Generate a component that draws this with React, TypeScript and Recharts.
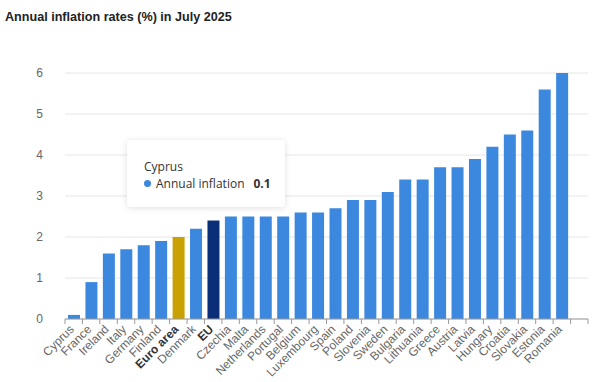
import { useEffect } from 'react'
import { BarChart, Bar, XAxis, YAxis, CartesianGrid, Tooltip, Cell } from 'recharts'

const countries = [
  'Cyprus', 'France', 'Ireland', 'Italy', 'Germany', 'Finland', 'Euro area', 'Denmark', 'EU',
  'Czechia', 'Malta', 'Netherlands', 'Portugal', 'Belgium', 'Luxembourg', 'Spain', 'Poland',
  'Slovenia', 'Sweden', 'Bulgaria', 'Lithuania', 'Greece', 'Austria', 'Latvia', 'Hungary',
  'Croatia', 'Slovakia', 'Estonia', 'Romania', '',
]
const inflation = [
  0.1, 0.9, 1.6, 1.7, 1.8, 1.9, 2.0, 2.2, 2.4,
  2.5, 2.5, 2.5, 2.5, 2.6, 2.6, 2.7, 2.9,
  2.9, 3.1, 3.4, 3.4, 3.7, 3.7, 3.9, 4.2,
  4.5, 4.6, 5.6, 6.0, null,
]
const yTicks = [0, 1, 2, 3, 4, 5, 6]
const aggregates = ['Euro area', 'EU']

const BLUE = '#3d88df'
const GOLD = '#c9a104'
const NAVY = '#0b2e78'

const data = countries.map((c, i) => ({ country: c, value: inflation[i] }))

const barColor = (c: string) => (c === 'Euro area' ? GOLD : c === 'EU' ? NAVY : BLUE)

// highcharts-style: tick marks sit between categories, labels rotated -45
const CountryTick = (props: any) => {
  const { x, y, payload, index, visibleTicksCount } = props
  const slot = 523 / countries.length
  const bold = aggregates.includes(payload.value)
  const last = index === visibleTicksCount - 1
  const lx = x + 1
  const ly = y + 11
  return (
    <g>
      <line x1={x - slot / 2} x2={x - slot / 2} y1={y} y2={y + 5} stroke="#999" />
      {last && <line x1={x + slot / 2} x2={x + slot / 2} y1={y} y2={y + 5} stroke="#999" />}
      <text
        x={lx}
        y={ly}
        transform={`rotate(-45, ${lx}, ${ly})`}
        textAnchor="end"
        fontSize={12}
        fontWeight={bold ? 700 : 400}
        fill={bold ? '#333' : '#666'}
      >
        {payload.value}
      </text>
    </g>
  )
}

const InfoBox = ({ payload }: any) => {
  if (!payload || !payload.length) return null
  const p = payload[0]
  return (
    <div
      style={{
        width: 158,
        height: 67,
        boxSizing: 'border-box',
        background: '#fff',
        borderRadius: 3,
        boxShadow: '0 1px 6px rgba(0,0,0,0.13)',
        padding: '18px 0 0 17px',
        fontFamily: '"Open Sans", sans-serif',
        fontSize: 12,
        color: '#333',
        lineHeight: '17px',
      }}
    >
      <div>{p.payload.country}</div>
      <div style={{ display: 'flex', alignItems: 'center' }}>
        <span style={{ width: 7, height: 7, borderRadius: 4, background: BLUE, marginRight: 5 }} />
        <span>Annual inflation</span>
        <span style={{ fontWeight: 700, marginLeft: 9 }}>{p.value}</span>
      </div>
    </div>
  )
}

export default function App() {
  useEffect(() => {
    document.body.style.margin = '0'
  }, [])

  return (
    <div
      style={{
        position: 'relative',
        width: 614,
        height: 382,
        background: '#fff',
        fontFamily: '"Liberation Sans", Arial, sans-serif',
      }}
    >
      <div
        style={{
          position: 'absolute',
          left: 5,
          top: 10,
          fontSize: 12.6,
          fontWeight: 700,
          color: '#222',
        }}
      >
        Annual inflation rates (%) in July 2025
      </div>
      <BarChart
        width={614}
        height={382}
        data={data}
        margin={{ top: 73, right: 26, left: 25, bottom: 3 }}
        style={{ position: 'absolute', left: 0, top: 0 }}
      >
        <CartesianGrid vertical={false} stroke="#e6e6e6" />
        <XAxis
          dataKey="country"
          interval={0}
          height={60}
          tickLine={false}
          axisLine={{ stroke: '#999' }}
          tick={<CountryTick />}
          tickSize={0}
          tickMargin={0}
        />
        <YAxis
          domain={[0, 6]}
          ticks={yTicks}
          width={40}
          axisLine={false}
          tickLine={false}
          tickSize={0}
          tickMargin={22}
          tick={{ fontSize: 12, fill: '#666' }}
        />
        <Tooltip
          active
          defaultIndex={0}
          position={{ x: 127, y: 140 }}
          cursor={false}
          isAnimationActive={false}
          content={<InfoBox />}
          wrapperStyle={{ transition: 'none' }}
        />
        <Bar dataKey="value" barSize={12} isAnimationActive={false}>
          {data.map((d) => (
            <Cell key={d.country || 'blank'} fill={barColor(d.country)} />
          ))}
        </Bar>
      </BarChart>
    </div>
  )
}
